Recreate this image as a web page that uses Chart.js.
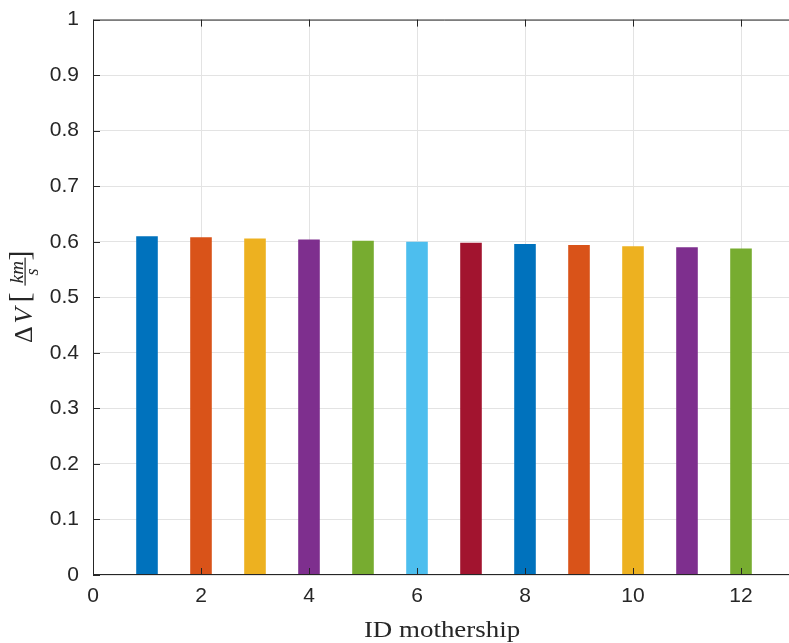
<!DOCTYPE html>
<html>
<head>
<meta charset="utf-8">
<script src="https://cdn.jsdelivr.net/npm/chart.js@4/dist/chart.umd.min.js"></script>
<style>
  html, body { margin: 0; padding: 0; background: #fff; overflow: hidden; }
  #wrap { width: 789px; height: 643px; overflow: hidden; position: relative; }
  #c { position: absolute; left: 0; top: -7px; }
</style>
</head>
<body>
<div id="wrap"><canvas id="c" width="800" height="650"></canvas></div>
<script>
// Mothership IDs and the delta-V each one needs [km/s]
const motherIds = [1, 2, 3, 4, 5, 6, 7, 8, 9, 10, 11, 12];
const deltaV = [0.610, 0.608, 0.606, 0.604, 0.602, 0.600, 0.598, 0.596, 0.594, 0.592, 0.590, 0.588];
const barColors = ['#0072BD', '#D95319', '#EDB120', '#7E2F8E', '#77AC30', '#4DBEEE', '#A2142F',
                   '#0072BD', '#D95319', '#EDB120', '#7E2F8E', '#77AC30'];
const xTickValues = [0, 2, 4, 6, 8, 10, 12];
const yTickValues = [0, 0.1, 0.2, 0.3, 0.4, 0.5, 0.6, 0.7, 0.8, 0.9, 1];
const xLimits = [0, 13];
const yLimits = [0, 1];

const ink = '#262626';
const gridColor = '#e3e3e3';
const tickFont = { family: '"Liberation Sans", Arial, sans-serif', size: 21 };
const serif = '"Liberation Serif", "DejaVu Serif", serif';

function fmtY(v) {
  if (Math.abs(v) < 1e-9) return '0';
  if (Math.abs(v - 1) < 1e-9) return '1';
  return v.toFixed(1);
}

// Box around the axes with inward tick marks, plus the typeset axis titles
const framePlugin = {
  id: 'frame',
  afterDraw(chart) {
    const { ctx, chartArea: a, scales } = chart;
    ctx.save();
    ctx.strokeStyle = ink;
    ctx.lineWidth = 1;
    ctx.beginPath();
    ctx.moveTo(a.left + 0.5, a.bottom - 0.5);
    ctx.lineTo(a.left + 0.5, a.top + 0.5);
    ctx.lineTo(a.right, a.top + 0.5);
    ctx.moveTo(a.left, a.bottom - 0.5);
    ctx.lineTo(a.right, a.bottom - 0.5);
    ctx.stroke();
    const tl = 7;
    ctx.beginPath();
    xTickValues.forEach(v => {
      const px = Math.round(scales.x.getPixelForValue(v)) + 0.5;
      ctx.moveTo(px, a.bottom); ctx.lineTo(px, a.bottom - tl);
      ctx.moveTo(px, a.top); ctx.lineTo(px, a.top + tl);
    });
    yTickValues.forEach(v => {
      const py = Math.round(scales.y.getPixelForValue(v)) + 0.5;
      ctx.moveTo(a.left, py); ctx.lineTo(a.left + tl, py);
    });
    ctx.stroke();

    // x title (glyphs widened a little for a Computer Modern look)
    ctx.fillStyle = ink;
    ctx.textBaseline = 'alphabetic';
    ctx.save();
    ctx.translate((a.left + a.right) / 2 - 2, a.bottom + 62);
    ctx.scale(1.17, 1);
    ctx.font = '23px ' + serif;
    ctx.textAlign = 'center';
    ctx.fillText('ID mothership', 0, 0);
    ctx.restore();

    // y title: ΔV [km/s] with a stacked fraction, rotated to read upward
    ctx.translate(32, a.top + 279);
    ctx.rotate(-Math.PI / 2);
    ctx.textAlign = 'center';
    ctx.font = '26px ' + serif;
    ctx.fillText('Δ', -36, 0);
    ctx.font = 'italic 26px ' + serif;
    ctx.fillText('V', -17, 0);
    ctx.font = '30px ' + serif;
    ctx.fillText('[', 1, -3);
    ctx.fillText(']', 43, -3);
    ctx.font = 'italic 19px ' + serif;
    ctx.fillText('km', 26.5, -9);
    ctx.font = 'italic 18px ' + serif;
    ctx.fillText('s', 26.5, 6);
    ctx.fillRect(13, -7.5, 28, 1.2);
    ctx.restore();
  }
};

new Chart(document.getElementById('c'), {
  type: 'bar',
  data: {
    datasets: [{
      data: motherIds.map((id, i) => ({ x: id, y: deltaV[i] })),
      backgroundColor: barColors,
      borderWidth: 0,
      categoryPercentage: 1,
      barPercentage: 0.4
    }]
  },
  options: {
    responsive: false,
    animation: false,
    layout: { padding: { top: 14, right: 5, left: 0, bottom: 0 } },
    plugins: { legend: { display: false }, tooltip: { enabled: false } },
    scales: {
      x: {
        type: 'linear',
        offset: false,
        min: xLimits[0], max: xLimits[1],
        afterBuildTicks: s => { s.ticks = xTickValues.map(v => ({ value: v })); },
        afterFit: s => { s.height = 68; },
        ticks: { color: ink, font: tickFont, padding: 9, maxRotation: 0, autoSkip: false,
                 callback: v => String(v) },
        grid: { color: gridColor, drawTicks: false, offset: false },
        border: { display: false }
      },
      y: {
        min: yLimits[0], max: yLimits[1],
        afterBuildTicks: s => { s.ticks = yTickValues.map(v => ({ value: v })); },
        afterFit: s => { s.width = 93; },
        ticks: { color: ink, font: tickFont, padding: 14, autoSkip: false, callback: v => fmtY(v) },
        grid: { color: gridColor, drawTicks: false },
        border: { display: false }
      }
    }
  },
  plugins: [framePlugin]
});
</script>
</body>
</html>
